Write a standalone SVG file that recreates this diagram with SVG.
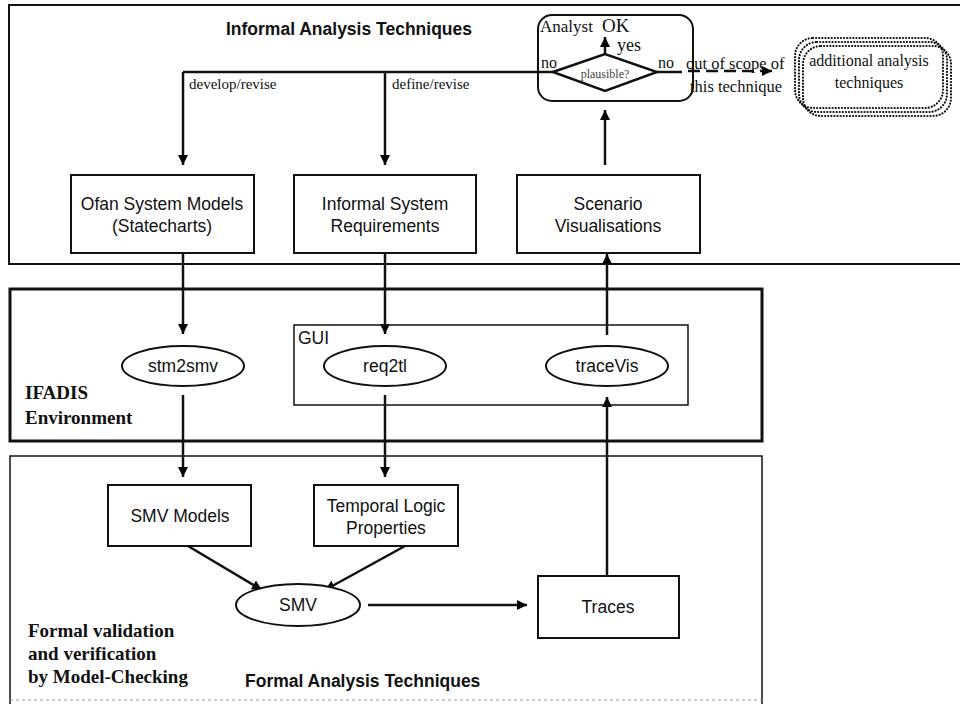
<svg xmlns="http://www.w3.org/2000/svg" width="960" height="704" viewBox="0 0 960 704">
<defs>
<marker id="ah" viewBox="0 0 10 10" refX="10" refY="5" markerWidth="10" markerHeight="10" markerUnits="userSpaceOnUse" orient="auto">
<path d="M0,0 L10,5 L0,10 Z" fill="#000"/>
</marker>
<style>
.sans{font-family:"Liberation Sans",Arial,sans-serif;font-size:17.5px;fill:#111}
.sb{font-family:"Liberation Sans",Arial,sans-serif;font-size:17.5px;font-weight:bold;fill:#111}
.serif{font-family:"Liberation Serif","Times New Roman",serif;font-size:15px;fill:#111}
.serifm{font-family:"Liberation Serif","Times New Roman",serif;font-size:17px;fill:#111}
.serifb{font-family:"Liberation Serif","Times New Roman",serif;font-size:19px;font-weight:bold;fill:#111}
.box{fill:#fff;stroke:#111;stroke-width:2}
.ell{fill:#fff;stroke:#111;stroke-width:2}
.edge{fill:none;stroke:#111;stroke-width:2.5;marker-end:url(#ah)}
.line{fill:none;stroke:#111;stroke-width:2.5}
.dot{fill:none;stroke:#111;stroke-width:2.2;stroke-dasharray:0.1 3;stroke-linecap:round}
</style>
</defs>
<rect width="960" height="704" fill="#fff"/>

<g id="panels">
<path d="M962,5 H9 V264 H962" fill="none" stroke="#111" stroke-width="2"/>
<rect x="10" y="289" width="752" height="152" fill="none" stroke="#111" stroke-width="3"/>
<path d="M10,704 V456 H762 V704" fill="none" stroke="#111" stroke-width="1.5"/>
<line x1="10" y1="700" x2="762" y2="700" stroke="#999" stroke-width="1" stroke-dasharray="3 3"/>
</g>

<g id="labels">
<text class="sb" x="349" y="35" text-anchor="middle">Informal Analysis Techniques</text>
<text class="serif" x="189" y="89">develop/revise</text>
<text class="serif" x="392" y="89">define/revise</text>
<text class="serifb" x="25" y="399">IFADIS</text>
<text class="serifb" x="25" y="424">Environment</text>
<text class="serifb" x="28" y="637">Formal validation</text>
<text class="serifb" x="28" y="660">and verification</text>
<text class="serifb" x="28" y="683">by Model-Checking</text>
<text class="sb" x="245" y="687">Formal Analysis Techniques</text>
<text class="serifm" x="686" y="69" style="font-size:16.5px">out of scope of</text>
<text class="serifm" x="690" y="92" style="font-size:16.5px">this technique</text>
</g>

<g id="connectors">
<path class="line" d="M183,72 H553"/>
<path class="edge" d="M183,72 V165"/>
<path class="edge" d="M385,72 V165"/>
<path class="line" d="M657,72 H682"/>
<path class="edge" d="M688,71 H772" stroke-dasharray="12 6"/>
<path class="edge" d="M605,165 V110"/>
<path class="edge" d="M605,54 V37"/>
<path class="edge" d="M183,253 V334"/>
<path class="edge" d="M385,253 V334"/>
<path class="edge" d="M607,335 V254"/>
<path class="edge" d="M183,395 V477"/>
<path class="edge" d="M385,395 V477"/>
<path class="edge" d="M607,576 V397"/>
<path class="edge" d="M188,546 L262,590"/>
<path class="edge" d="M405,546 L325,590"/>
<path class="edge" d="M368,605 L527,605"/>
</g>

<g id="analyst">
<rect x="538" y="15" width="155" height="86" rx="14" fill="none" stroke="#111" stroke-width="2"/>
<text class="serifm" x="540" y="32">Analyst</text>
<text class="serifm" x="602" y="32" style="font-size:19px">OK</text>
<text class="serifm" x="617" y="51" style="font-size:18px">yes</text>
<text class="serifm" x="541" y="68" style="font-size:16px">no</text>
<text class="serifm" x="658" y="68" style="font-size:16px">no</text>
</g>

<g id="plausible">
<path d="M553,72 L605,54 L657,72 L605,91 Z" fill="#fff" stroke="#111" stroke-width="2.5"/>
<text class="serif" x="605" y="78" text-anchor="middle" style="font-size:12px;fill:#444">plausible?</text>
</g>

<g id="additional">
<rect x="803" y="46" width="148" height="70" rx="18" class="dot"/>
<rect x="799" y="42" width="148" height="70" rx="18" class="dot"/>
<rect x="795" y="38" width="148" height="70" rx="18" fill="#fff" class="dot"/>
<text class="serifm" x="869" y="66" text-anchor="middle" style="font-size:16px">additional analysis</text>
<text class="serifm" x="869" y="88" text-anchor="middle" style="font-size:16px">techniques</text>
</g>

<g id="ofan">
<rect class="box" x="71" y="175" width="183" height="78"/>
<text class="sans" x="162" y="210" text-anchor="middle">Ofan System Models</text>
<text class="sans" x="162" y="232" text-anchor="middle">(Statecharts)</text>
</g>
<g id="informal">
<rect class="box" x="294" y="175" width="182" height="78"/>
<text class="sans" x="385" y="210" text-anchor="middle">Informal System</text>
<text class="sans" x="385" y="232" text-anchor="middle">Requirements</text>
</g>
<g id="scenario">
<rect class="box" x="517" y="175" width="183" height="78"/>
<text class="sans" x="608" y="210" text-anchor="middle">Scenario</text>
<text class="sans" x="608" y="232" text-anchor="middle">Visualisations</text>
</g>

<g id="gui">
<rect x="294" y="325" width="394" height="80" fill="none" stroke="#111" stroke-width="1.5"/>
<text class="sans" x="298" y="344">GUI</text>
</g>
<g id="stm2smv">
<ellipse class="ell" cx="183" cy="366" rx="61" ry="20"/>
<text class="sans" x="183" y="372" text-anchor="middle">stm2smv</text>
</g>
<g id="req2tl">
<ellipse class="ell" cx="385" cy="366" rx="61" ry="20"/>
<text class="sans" x="385" y="372" text-anchor="middle">req2tl</text>
</g>
<g id="traceVis">
<ellipse class="ell" cx="607" cy="366" rx="61" ry="20"/>
<text class="sans" x="607" y="372" text-anchor="middle">traceVis</text>
</g>

<g id="smvmodels">
<rect class="box" x="108" y="485" width="143" height="61"/>
<text class="sans" x="180" y="522" text-anchor="middle">SMV Models</text>
</g>
<g id="temporal">
<rect class="box" x="314" y="485" width="144" height="61"/>
<text class="sans" x="386" y="512" text-anchor="middle">Temporal Logic</text>
<text class="sans" x="386" y="534" text-anchor="middle">Properties</text>
</g>
<g id="smv">
<ellipse class="ell" cx="298" cy="605" rx="62" ry="21"/>
<text class="sans" x="298" y="611" text-anchor="middle">SMV</text>
</g>
<g id="traces">
<rect class="box" x="538" y="576" width="141" height="62"/>
<text class="sans" x="608" y="613" text-anchor="middle">Traces</text>
</g>
</svg>
